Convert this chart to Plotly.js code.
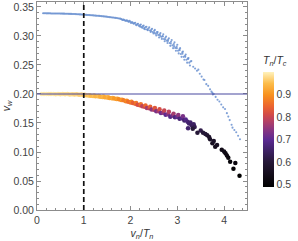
<!DOCTYPE html>
<html>
<head>
<meta charset="utf-8">
<script src="https://cdn.plot.ly/plotly-3.0.1.min.js"></script>
<style>html,body{margin:0;padding:0;background:#fff;}#chart{width:298px;height:241px;}</style>
</head>
<body>
<div id="chart"></div>
<script>
// Upper (blue) series: v_n/T_n and v_w
const blueX = [0.13,0.18,0.23,0.28,0.33,0.38,0.43,0.48,0.53,0.58,0.63,0.68,0.73,0.78,0.83,0.88,0.93,0.98,1.03,1.08,1.13,1.18,1.23,1.28,1.33,1.38,1.43,1.48,1.53,1.58,1.63,1.68,1.73,1.78,
0.155,0.205,0.255,0.305,0.355,0.405,0.455,0.505,0.555,0.605,0.655,0.705,0.755,0.805,0.855,0.905,0.955,1.005,1.055,1.105,1.155,1.205,1.255,1.305,1.355,1.405,1.455,1.505,1.555,1.605,1.655,1.705,1.755,
1.80,1.83,1.86,1.89,1.92,1.95,1.98,2.01,2.04,2.07,2.10,2.13,2.16,2.19,2.22,2.25,2.28,2.31,2.34,2.37,2.40,2.43,2.46,2.49,2.52,2.55,2.58,2.61,2.64,2.67,2.70,2.73,2.76,2.79,2.82,2.85,2.88,2.91,2.94,2.97,3.00,3.03,3.06,3.09,3.12,3.15,3.18,3.21,3.24,3.27,3.30,
1.815,1.845,1.875,1.905,1.935,1.965,1.995,2.025,2.055,2.085,2.115,2.145,2.175,2.205,2.235,2.265,2.295,2.325,2.355,2.385,2.415,2.445,2.475,2.505,2.535,2.565,2.595,2.625,2.655,2.685,2.715,2.745,2.775,2.805,2.835,2.865,2.895,2.925,2.955,2.985,3.015,3.045,3.075,3.105,3.135,3.165,3.195,3.225,3.255,3.285,
2.21,2.29,2.36,2.44,2.51,2.57,2.63,2.69,2.74,2.80,2.86,2.93,2.99,3.05,3.11,3.17,3.23,
3.34,3.38,3.42,3.45,3.48,3.52,3.56,3.58,3.62,3.66,3.70,3.73,3.75,3.76,3.78,3.82,3.86,3.90,3.94,3.98,4.02,4.06,4.09,4.12,4.16,4.18,4.22,4.26,4.30,4.34];
const blueY = [0.3392,0.3391,0.3390,0.3390,0.3389,0.3389,0.3388,0.3387,0.3386,0.3385,0.3384,0.3382,0.3381,0.3379,0.3377,0.3375,0.3372,0.3369,0.3366,0.3363,0.3360,0.3357,0.3353,0.3350,0.3346,0.3342,0.3338,0.3333,0.3328,0.3323,0.3318,0.3312,0.3306,0.3299,
0.3391,0.3390,0.3390,0.3389,0.3389,0.3388,0.3387,0.3386,0.3385,0.3384,0.3383,0.3381,0.3380,0.3378,0.3376,0.3373,0.3370,0.3367,0.3364,0.3361,0.3358,0.3355,0.3351,0.3348,0.3344,0.3340,0.3335,0.3330,0.3325,0.3320,0.3315,0.3309,0.3302,
0.3293,0.3276,0.3279,0.3263,0.3269,0.3251,0.3264,0.3223,0.3235,0.3211,0.3228,0.3185,0.3210,0.3168,0.3199,0.3140,0.3181,0.3115,0.3160,0.3100,0.3150,0.3070,0.3125,0.3045,0.3105,0.3010,0.3070,0.2975,0.3050,0.2950,0.3030,0.2910,0.2990,0.2880,0.2960,0.2830,0.2930,0.2790,0.2890,0.2745,0.2850,0.2700,0.2790,0.2640,0.2730,0.2590,0.2680,0.2540,0.2620,0.2490,0.2570,
0.3284,0.3282,0.3271,0.3262,0.3263,0.3247,0.3245,0.3238,0.3220,0.3222,0.3195,0.3205,0.3180,0.3190,0.3155,0.3170,0.3140,0.3155,0.3115,0.3130,0.3095,0.3112,0.3070,0.3090,0.3040,0.3068,0.3015,0.3030,0.2985,0.3000,0.2948,0.2970,0.2920,0.2940,0.2880,0.2900,0.2838,0.2860,0.2795,0.2820,0.2745,0.2770,0.2690,0.2720,0.2640,0.2660,0.2590,0.2610,0.2540,0.2560,
0.3160,0.3125,0.3108,0.3085,0.3058,0.3045,0.3005,0.2992,0.2940,0.2915,0.2870,0.2825,0.2790,0.2755,0.2695,0.2640,0.2605,
0.2470,0.2440,0.2400,0.2420,0.2350,0.2300,0.2250,0.2240,0.2170,0.2140,0.2080,0.2040,0.2020,0.1990,0.2000,0.1950,0.1900,0.1870,0.1820,0.1770,0.1740,0.1670,0.1610,0.1550,0.1470,0.1420,0.1380,0.1340,0.1280,0.1220];

// Lower series coloured by T_n/T_c
const colX = [0.10,0.15,0.20,0.25,0.30,0.35,0.40,0.45,0.50,0.55,0.60,0.65,0.70,0.75,0.80,0.85,0.90,0.95,
1.00,1.02,1.05,1.10,1.12,1.15,1.20,1.22,1.25,1.30,1.32,1.35,1.40,1.42,1.45,1.50,1.52,1.55,1.60,1.62,1.65,1.70,1.72,1.75,1.80,1.82,1.85,1.90,1.92,1.95,
2.00,2.02,2.05,2.10,2.12,2.15,2.20,2.22,2.25,2.30,2.32,2.35,2.40,2.42,2.45,2.50,2.52,2.55,2.60,2.62,2.65,2.70,2.72,2.75,2.80,2.82,2.85,2.90,2.92,2.95,3.00,3.02,3.05,3.10,3.12,3.15,
3.18,3.22,3.25,3.28,3.30,3.32,3.35,3.37,3.33,3.23,3.43,3.50,3.55,3.60,3.64,3.68,3.70,3.75,3.78,3.81,3.85,3.95,4.00,4.03,4.06,4.09,4.13,4.20,4.24,4.33];
const colY = [0.2001,0.1999,0.2000,0.1998,0.2001,0.1999,0.1997,0.2000,0.1996,0.1999,0.1995,0.1998,0.1993,0.1997,0.1991,0.1995,0.1989,0.1993,
0.1983,0.1988,0.1978,0.1975,0.1980,0.1970,0.1967,0.1972,0.1962,0.1959,0.1964,0.1954,0.1950,0.1955,0.1945,0.1938,0.1943,0.1933,0.1927,0.1932,0.1922,0.1915,0.1920,0.1910,0.1895,0.1900,0.1890,0.1875,0.1882,0.1868,
0.1855,0.1865,0.1845,0.1830,0.1844,0.1816,0.1805,0.1822,0.1788,0.1780,0.1801,0.1759,0.1755,0.1779,0.1731,0.1730,0.1759,0.1701,0.1704,0.1737,0.1671,0.1678,0.1716,0.1640,0.1650,0.1693,0.1607,0.1628,0.1659,0.1597,0.1605,0.1638,0.1572,0.1580,0.1615,0.1545,
0.1560,0.1520,0.1490,0.1510,0.1470,0.1450,0.1480,0.1430,0.1400,0.1410,0.1330,0.1370,0.1330,0.1310,0.1290,0.1260,0.1220,0.1150,0.1190,0.1090,0.1120,0.1040,0.1010,0.0980,0.0940,0.0900,0.0830,0.0710,0.0810,0.0590];
const colTnTc = [0.993,0.99,0.992,0.988,0.985,0.99,0.984,0.986,0.98,0.982,0.978,0.98,0.975,0.976,0.97,0.972,0.966,0.968,
0.96,0.965,0.955,0.955,0.961,0.948,0.948,0.956,0.941,0.943,0.952,0.934,0.935,0.946,0.925,0.926,0.937,0.916,0.918,0.929,0.907,0.905,0.92,0.89,0.89,0.907,0.873,0.875,0.893,0.857,
0.86,0.88,0.84,0.843,0.87,0.816,0.826,0.861,0.792,0.81,0.851,0.769,0.793,0.842,0.745,0.779,0.829,0.729,0.765,0.815,0.715,0.751,0.801,0.701,0.737,0.787,0.687,0.722,0.769,0.675,0.708,0.748,0.668,0.692,0.727,0.657,
0.69,0.67,0.66,0.66,0.65,0.64,0.65,0.63,0.60,0.66,0.60,0.62,0.60,0.60,0.59,0.58,0.57,0.56,0.57,0.55,0.56,0.54,0.54,0.53,0.53,0.52,0.51,0.50,0.52,0.49];

const xTicks = [0,1,2,3,4];
const yTicks = [0,0.05,0.10,0.15,0.20,0.25,0.30,0.35];
const yTickText = ['0.00','0.05','0.10','0.15','0.20','0.25','0.30','0.35'];
const cbTicks = [0.5,0.6,0.7,0.8,0.9];
const refVw = 0.2;
const refX = 1;

const font = {family: 'Liberation Sans, Arial, sans-serif', size: 10.5, color: '#444'};
const sunset = [
  [0.0,'#000000'],[0.1,'#120c18'],[0.22,'#261838'],[0.32,'#3f2266'],[0.41,'#5b2a92'],
  [0.5,'#8a3580'],[0.58,'#b84262'],[0.63,'#d24b48'],[0.7,'#eb6430'],[0.8,'#f8911e'],
  [0.9,'#fcbc4a'],[1.0,'#fff2bd']];

const traces = [
  {type:'scatter', mode:'markers', x: blueX, y: blueY,
   marker:{size:2.1, color:'#6a90d0', opacity:0.85}, hoverinfo:'skip', showlegend:false},
  {type:'scatter', mode:'markers', x: colX, y: colY,
   marker:{size:4.5, color: colTnTc, colorscale: sunset, cmin:0.49, cmax:1.0, line:{width:0},
     showscale:true,
     colorbar:{thickness:11, len:154, lenmode:'pixels', x:1.076, xanchor:'left', xpad:0,
       y:0.433, yanchor:'middle', outlinewidth:0, ticks:'', tickvals: cbTicks,
       tickfont: font,
       title:{text:'<i>T<sub>n</sub></i>/<i>T<sub>c</sub></i>', side:'top', font:{family:font.family, size:10.5, color:'#333'}}}},
   hoverinfo:'skip', showlegend:false}
];

const axisCommon = {showline:true, linecolor:'#8c8c8c', linewidth:1, mirror:'ticks',
  ticks:'inside', ticklen:4, tickcolor:'#8c8c8c', showgrid:false, zeroline:false, tickfont: font};

const layout = {
  width:298, height:241,
  margin:{l:37, r:51, t:2, b:31},
  paper_bgcolor:'#fff', plot_bgcolor:'#fff',
  xaxis: Object.assign({}, axisCommon, {range:[0,4.49], tickvals: xTicks,
    minor:{ticks:'inside', dtick:0.2, ticklen:2, tickcolor:'#8c8c8c'},
    title:{text:'<i>v<sub>n</sub></i>/<i>T<sub>n</sub></i>', font:{family:font.family, size:10.5, color:'#333'}, standoff:6}}),
  yaxis: Object.assign({}, axisCommon, {range:[0,0.3586], tickvals: yTicks, ticktext: yTickText,
    minor:{ticks:'inside', dtick:0.01, ticklen:2, tickcolor:'#8c8c8c'},
    title:{text:'<i>v<sub>w</sub></i>', font:{family:font.family, size:10.5, color:'#333'}, standoff:4}}),
  shapes:[
    {type:'line', xref:'paper', x0:0, x1:1, yref:'y', y0:refVw, y1:refVw, line:{color:'#4848a0', width:1.1}},
    {type:'line', xref:'x', x0:refX, x1:refX, yref:'paper', y0:0, y1:1, line:{color:'#111', width:1.7, dash:'5px,3px'}}
  ]
};

Plotly.newPlot('chart', traces, layout, {staticPlot:true, displayModeBar:false});
</script>
</body>
</html>
